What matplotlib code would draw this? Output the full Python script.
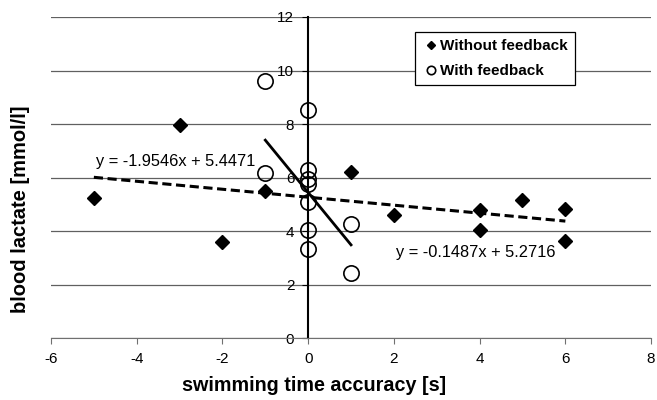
import numpy as np
import matplotlib
matplotlib.use('Agg')
import matplotlib.pyplot as plt

plt.rcParams['font.family'] = ['Liberation Sans', 'DejaVu Sans']
plt.rcParams['axes.unicode_minus'] = False

# without feedback (filled diamonds)
x_without = [-5, -3, -2, -1, 1, 2, 4, 4, 5, 6, 6]
y_without = [5.25, 7.95, 3.6, 5.5, 6.2, 4.6, 4.78, 4.05, 5.15, 4.82, 3.65]

# with feedback (open circles)
x_with = [-1, -1, 0, 0, 0, 0, 0, 0, 0, 1, 1]
y_with = [9.62, 6.18, 8.52, 6.28, 5.95, 5.75, 5.1, 4.05, 3.35, 4.27, 2.44]

# trend lines as printed on the chart (slope, intercept)
fit_without = (-0.1487, 5.2716)
fit_with = (-1.9546, 5.4471)
label_without = 'y = -1.9546x + 5.4471'
label_with = 'y = -0.1487x + 5.2716'

fig = plt.figure(figsize=(6.57, 4.0), dpi=100)
ax = fig.add_axes([0.0776, 0.154, 0.9134, 0.8035])

ax.set_xlim(-6, 8)
ax.set_ylim(0, 12)
ax.set_xticks(range(-6, 9, 2))
ax.set_yticks(range(0, 13, 2))
ax.yaxis.grid(True, color='#606060', lw=0.9)
ax.set_axisbelow(True)

for s in ['top', 'right']:
    ax.spines[s].set_visible(False)
ax.spines['left'].set_position(('data', 0))
ax.spines['left'].set_linewidth(1.5)
ax.spines['left'].set_zorder(1.5)
ax.spines['bottom'].set_color('#707070')
ax.tick_params(axis='both', direction='out', length=4, labelsize=11, colors='black')
ax.tick_params(axis='x', color='#707070', pad=6)
ax.tick_params(axis='y', pad=6)

# trend lines
xs = np.array([min(x_without), max(x_without)])
ax.plot(xs, fit_without[0] * xs + fit_without[1], color='black', lw=2.2,
        dashes=(3, 1.5), zorder=2)
xs = np.array([min(x_with), max(x_with)])
ax.plot(xs, fit_with[0] * xs + fit_with[1], color='black', lw=2, zorder=2)

ax.plot(x_without, y_without, 'D', color='black', ms=7.5, ls='none',
        label='Without feedback', zorder=3)
ax.plot(x_with, y_with, 'o', mfc='none', mec='black', mew=1.2, ms=11, ls='none',
        label='With feedback', zorder=3)

ax.text(-4.95, 6.62, label_without, fontsize=11.8, va='center', ha='left')
ax.text(2.04, 3.2, label_with, fontsize=11.8, va='center', ha='left')

ax.set_xlabel('swimming time accuracy [s]', fontsize=14.2, fontweight='bold')
ax.set_ylabel('blood lactate [mmol/l]', fontsize=14.5, fontweight='bold')
ax.xaxis.set_label_coords(314.5 / 657, 24 / 400, transform=fig.transFigure)
ax.yaxis.set_label_coords(30 / 657, 0.4775, transform=fig.transFigure)

leg = ax.legend(loc='upper left', bbox_to_anchor=(0.607, 0.953), markerscale=0.55,
                frameon=True, fancybox=False, edgecolor='black', framealpha=1,
                prop={'weight': 'bold', 'size': 11}, handletextpad=0.0,
                handlelength=1.2, borderpad=0.45, labelspacing=0.75, borderaxespad=0)
leg.get_frame().set_linewidth(0.9)

fig.savefig('out.png', dpi=100)
